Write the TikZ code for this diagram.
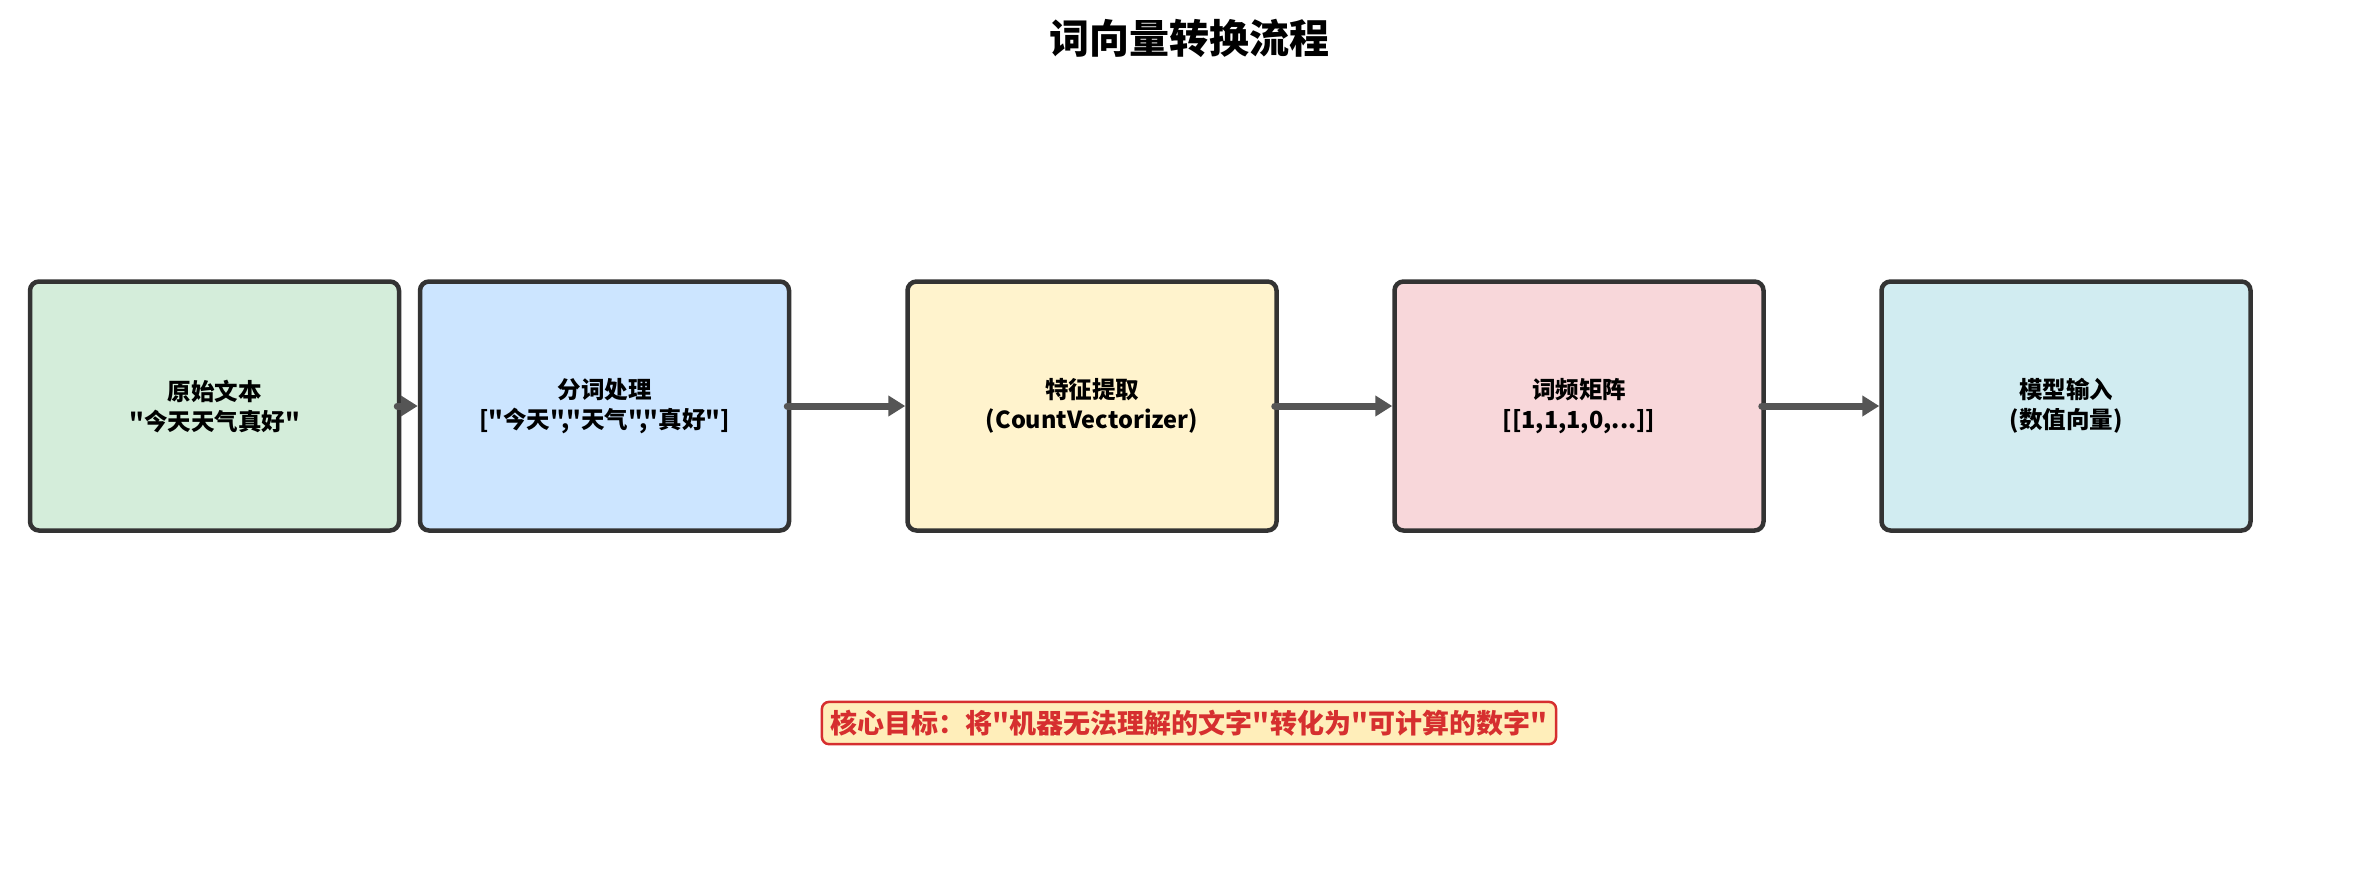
\documentclass[tikz,border=0pt]{standalone}
\usepackage{fontspec}
\setmainfont{Noto Sans CJK SC}[Ligatures=TeXOff]
\usetikzlibrary{arrows.meta}
\definecolor{bordc}{HTML}{333333}
\definecolor{arrc}{HTML}{555555}
\definecolor{cgreen}{HTML}{D4EDDA}
\definecolor{cblue}{HTML}{CCE5FF}
\definecolor{cyellow}{HTML}{FFF3CD}
\definecolor{cpink}{HTML}{F8D7DA}
\definecolor{ccyan}{HTML}{D1ECF1}
\definecolor{notered}{HTML}{D62F2F}
\definecolor{notefill}{HTML}{FFEEBA}
\tikzset{
  stepbox/.style={draw=bordc, line width=4.5pt, rounded corners=9pt,
    minimum width=369pt, minimum height=249pt, align=center,
    font=\fontsize{23.5}{30}\selectfont\bfseries, text=black},
  flowarrow/.style={draw=arrc, line width=7pt, line cap=round,
    -{Triangle[length=17pt,width=20pt]}},
  notebox/.style={draw=notered, fill=notefill, line width=2.5pt, rounded corners=7pt,
    inner xsep=9pt, inner ysep=8pt, text=notered,
    font=\fontsize{27}{30}\selectfont\bfseries},
  titlestyle/.style={font=\fontsize{40}{46}\selectfont\bfseries, text=black}
}
\begin{document}
\begin{tikzpicture}[x=1pt,y=-1pt]
\path[use as bounding box] (0,0) rectangle (2379,878);
\node[titlestyle] (title) at (1189,38) {词向量转换流程};
\node[stepbox, fill=cgreen] (b1) at (214.5,406) {原始文本\\"今天天气真好"};
\node[stepbox, fill=cblue] (b2) at (604.5,406) {分词处理\\{[}"今天","天气","真好"{]}};
\node[stepbox, fill=cyellow] (b3) at (1092,406) {特征提取\\(CountVectorizer)};
\node[stepbox, fill=cpink] (b4) at (1579,406) {词频矩阵\\{[}[1,1,1,0,...]{]}};
\node[stepbox, fill=ccyan] (b5) at (2066,406) {模型输入\\(数值向量)};
\draw[flowarrow] ([xshift=-4pt]b1.east) -- (b2.west);
\draw[flowarrow] ([xshift=-4pt]b2.east) -- (b3.west);
\draw[flowarrow] ([xshift=-4pt]b3.east) -- (b4.west);
\draw[flowarrow] ([xshift=-4pt]b4.east) -- (b5.west);
\node[notebox] (note) at (1189,723) {核心目标：将"机器无法理解的文字"转化为"可计算的数字"};
\end{tikzpicture}
\end{document}
